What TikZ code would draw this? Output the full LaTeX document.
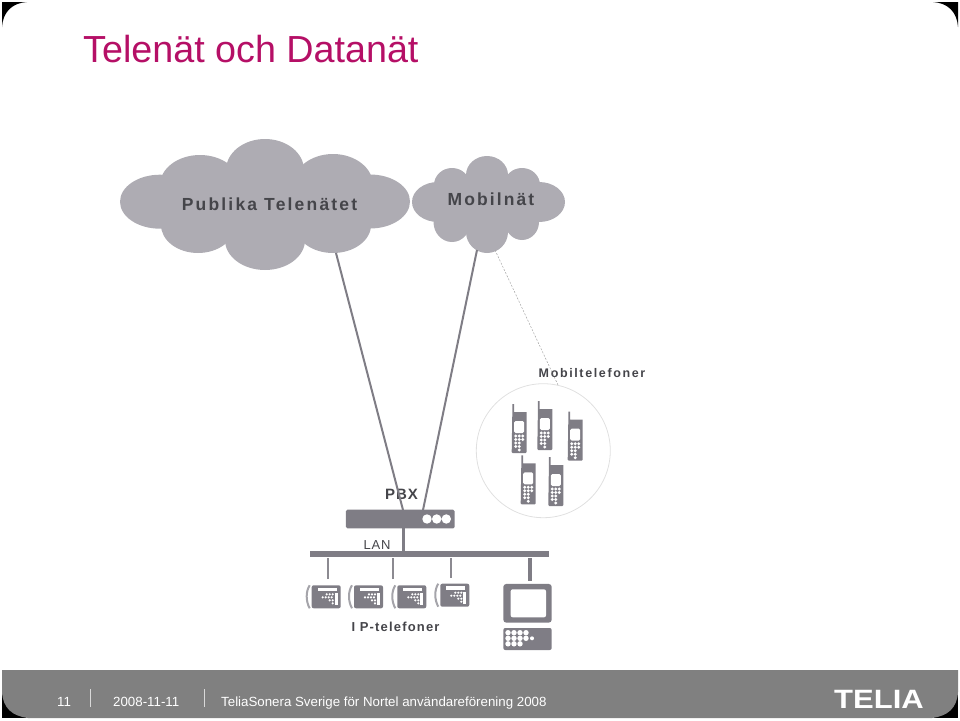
\documentclass[tikz,border=0pt]{standalone}
\usepackage{fontspec}
\setmainfont{Liberation Sans}
\usepackage{tikz}
\usetikzlibrary{positioning}
\definecolor{titlered}{HTML}{B50F66}
\definecolor{cloudgrey}{HTML}{AEACB3}
\definecolor{netgrey}{HTML}{7F7D85}
\definecolor{labelgrey}{HTML}{45454A}
\tikzset{
  wire/.style={draw=netgrey, line width=2pt},
  stub/.style={draw=netgrey!90!white, line width=2pt},
  nettext/.style={text=labelgrey, inner sep=0pt, anchor=base},
  footer/.style={text=white, inner sep=0pt, anchor=base west, font=\fontsize{13.3}{16}\selectfont},
  divider/.style={draw=white!85!black, line width=0.8pt},
  mobile/.pic={
    \fill[netgrey] (0.6,0) -- (0.6,-9) -- (2.4,-9) -- (2.4,-1) -- (15,-1) -- (15,39) -- (14,40) -- (1,40) -- (0,39) -- cycle;
    \fill[white, rounded corners=1.5pt] (2.5,8) rectangle (12.5,20);
    \foreach \row/\cols in {23/{4,7.5,11}, 26.5/{4,7.5,11}, 30/{4,7.5}, 33.5/{4,7.5}, 37/{7.5}}
      \foreach \col in \cols
        \fill[white] (\col,\row) circle (1.6);
  },
  deskphone/.pic={
    \fill[netgrey, rounded corners=2pt] (0,0) rectangle (29,23);
    \draw[netgrey!70!white, line width=2pt] (-2,0) .. controls (-6,6) and (-6,16) .. (-2,23);
    \fill[white] (6,2.5) rectangle (25,6);
    \fill[white] (23,8) rectangle (26,20);
    \foreach \row/\cols in {9/{15,18,21}, 12/{11,14,17,20}, 15/{18,21}, 18/{21}}
      \foreach \col in \cols
        \fill[white] (\col,\row) circle (1.2);
  },
}

\begin{document}
\begin{tikzpicture}[x=1pt, y=-1pt]
  \useasboundingbox (0,0) rectangle (960,720);

  % Slide corners
  \fill[black] (2,27) .. controls (3,12) and (12,3) .. (27,2) -- (2,2) -- cycle;
  \fill[black] (958,27) .. controls (957,12) and (948,3) .. (933,2) -- (958,2) -- cycle;

  % Footer
  \fill[black] (2,690) rectangle (26,718);
  \fill[black] (958,690) rectangle (934,718);
  \fill[black!50] (2,670) -- (958,670) -- (958,692) .. controls (957,708) and (948,716) .. (932,718) -- (28,718) .. controls (12,716) and (3,708) .. (2,692) -- cycle;
  \node[footer] (pagenr) at (57,706) {11};
  \node[footer] (datum) at (113,706) {2008-11-11};
  \node[footer] (rubrik) at (221,706) {TeliaSonera Sverige för Nortel användareförening 2008};
  \draw[divider] (90.5,689) -- (90.5,707);
  \draw[divider] (204,689) -- (204,707);
  \node[inner sep=0pt, text=white, font=\bfseries\fontsize{26.5}{27}\selectfont, xscale=1.17, anchor=base] (telia) at (879,708) {TELIA};

  % Title
  \node[anchor=base west, inner sep=0pt, text=titlered, font=\fontsize{37.7}{40}\selectfont] (title) at (83,62.5) {Telenät och Datanät};

  % Clouds
  \fill[cloudgrey] (160,201.7) ellipse (40 and 27);
  \fill[cloudgrey] (200,185) ellipse (40 and 30);
  \fill[cloudgrey] (265,170) ellipse (39 and 31);
  \fill[cloudgrey] (333,185) ellipse (40 and 31);
  \fill[cloudgrey] (370,201.5) ellipse (40 and 27);
  \fill[cloudgrey] (198,225) ellipse (37 and 28);
  \fill[cloudgrey] (265,240) ellipse (40 and 30);
  \fill[cloudgrey] (333,225) ellipse (38 and 28);
  \fill[cloudgrey] (265,204) ellipse (110 and 38);

  \fill[cloudgrey] (438,202) ellipse (26 and 20);
  \fill[cloudgrey] (539,202) ellipse (26 and 20);
  \fill[cloudgrey] (452,185) ellipse (18 and 17);
  \fill[cloudgrey] (487,175) ellipse (21 and 19);
  \fill[cloudgrey] (522,185) ellipse (18 and 17);
  \fill[cloudgrey] (452,222) ellipse (18.5 and 20);
  \fill[cloudgrey] (487,232) ellipse (21 and 21);
  \fill[cloudgrey] (522,222) ellipse (17 and 18);
  \fill[cloudgrey] (488,203) ellipse (42 and 30);

  \node[nettext, font=\bfseries\fontsize{17.5}{20}\selectfont\addfontfeature{LetterSpace=12.5}] (publika) at (269.5,210) {Publika Telenätet};
  \node[nettext, font=\bfseries\fontsize{17.5}{20}\selectfont\addfontfeature{LetterSpace=12}] (mobilnat) at (491,205.5) {Mobilnät};

  % Mobile phones
  \draw[black!12, line width=0.8pt] (543.3,450.7) circle (67);
  \pic at (511.7,413) {mobile};
  \pic at (537.3,410) {mobile};
  \pic at (567.7,420.7) {mobile};
  \pic at (520.7,464.3) {mobile};
  \pic at (548.3,466) {mobile};
  \node[nettext, font=\bfseries\fontsize{12.5}{15}\selectfont\addfontfeature{LetterSpace=13}] (mobiltel) at (592,377) {Mobiltelefoner};

  % PBX and LAN
  \node[fill=netgrey, rounded corners=1.5pt, minimum width=108.7pt, minimum height=18.7pt, inner sep=0pt] (pbx) at (400.3,519) {};
  \fill[white] (427,519) circle (4.7) (436.7,519) circle (4.7) (446.3,519) circle (4.7);
  \node[fill=netgrey, minimum width=239pt, minimum height=6.6pt, inner sep=0pt] (lan) at (429.5,554) {};
  \node[nettext, font=\bfseries\fontsize{15}{18}\selectfont\addfontfeature{LetterSpace=6}] (pbxtext) at (401.5,499.5) {PBX};
  \node[nettext, font=\fontsize{13}{15}\selectfont\addfontfeature{LetterSpace=6}] (lantext) at (377,549) {LAN};

  \coordinate (telefoot) at (336,253);
  \coordinate (mobilfoot) at (477,250);
  \coordinate (mobilside) at (495,250);
  \coordinate (telepbx) at (403,510);
  \coordinate (mobilpbx) at (423,510);
  \coordinate (circletop) at (558,385);
  \coordinate (stem) at (403.7,528);
  \draw[wire] (telefoot) -- (telepbx);
  \draw[wire] (mobilfoot) -- (mobilpbx);
  \draw[black!35, line width=0.5pt, dash pattern=on 2pt off 1.5pt] (mobilside) -- (circletop);
  \draw[netgrey, line width=3.2pt] (stem) -- (stem |- lan.north);

  % Phones on the LAN
  \coordinate (tela) at (327.7,579);
  \coordinate (telb) at (392.7,579);
  \coordinate (telc) at (451.3,577.7);
  \coordinate (pctop) at (530,580.7);
  \draw[stub] (tela) -- (tela |- lan.south);
  \draw[stub] (telb) -- (telb |- lan.south);
  \draw[stub] (telc) -- (telc |- lan.south);
  \draw[netgrey, line width=3.2pt] (pctop) -- (pctop |- lan.south);
  \pic at (311.7,585.3) {deskphone};
  \pic at (354,585.3) {deskphone};
  \pic at (397.3,585.3) {deskphone};
  \pic at (440.3,583.7) {deskphone};
  \node[nettext, font=\bfseries\fontsize{13}{15}\selectfont\addfontfeature{LetterSpace=9}] (iptext) at (395.5,631.5) {I P-telefoner};

  % Computer
  \node[fill=netgrey, rounded corners=3pt, minimum width=48.4pt, minimum height=38.7pt, inner sep=0pt] (screen) at (527.5,603.3) {};
  \fill[white, rounded corners=2pt] (510.7,589.3) rectangle (546,617.3);
  \node[fill=netgrey, rounded corners=2pt, minimum width=48.4pt, minimum height=22pt, inner sep=0pt] (keyboard) at (527.5,639) {};
  \foreach \row/\cols in {632.7/{508,514,520,526}, 638.3/{508,514,520,526}, 643.8/{508,514,520}}
    \foreach \col in \cols
      \fill[white] (\col,\row) circle (2.7);
  \fill[white] (532,638.3) circle (2);
\end{tikzpicture}
\end{document}
